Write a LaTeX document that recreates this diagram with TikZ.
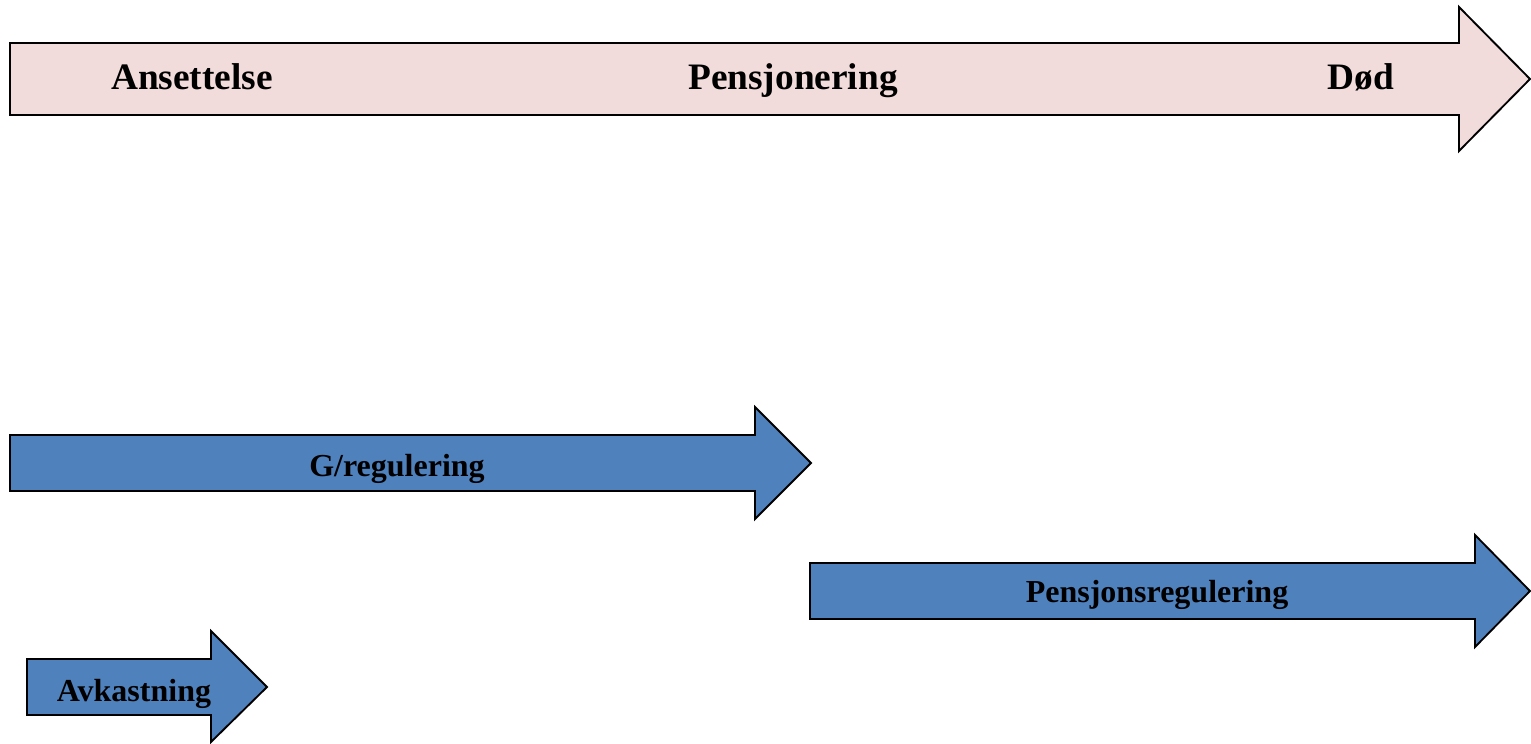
\documentclass[tikz,border=0pt]{standalone}
\usepackage{fontspec}
\setmainfont{Liberation Serif}
\definecolor{pinkfill}{HTML}{F2DCDB}
\definecolor{bluefill}{HTML}{4F81BD}
\begin{document}
\begin{tikzpicture}[x=0.75pt,y=-0.75pt,
    pil/.style = {draw=black, line width=1.4pt, line join=miter},
    tidslinje/.style = {pil, fill=pinkfill},
    regulering/.style = {pil, fill=bluefill},
    stor/.style = {anchor=base, font=\fontsize{28}{32}\selectfont\bfseries, inner sep=0pt},
    liten/.style = {anchor=base, font=\fontsize{24}{28}\selectfont\bfseries, inner sep=0pt}]
    \useasboundingbox (0,0) rectangle (1531,743);
    % tidslinje
    \draw[tidslinje] (10,43) -- (1459,43) -- (1459,7) -- (1530,79) -- (1459,151) -- (1459,115) -- (10,115) -- cycle;
    % reguleringspiler
    \draw[regulering] (10,435) -- (755,435) -- (755,407) -- (811,463) -- (755,519) -- (755,491) -- (10,491) -- cycle;
    \draw[regulering] (810,563) -- (1475,563) -- (1475,535) -- (1530,591) -- (1475,647) -- (1475,619) -- (810,619) -- cycle;
    \draw[regulering] (27,659) -- (211,659) -- (211,631) -- (267,687) -- (211,742) -- (211,715) -- (27,715) -- cycle;
    \node[stor] (ansettelse) at (192,89) {Ansettelse};
    \node[stor] (pensjonering) at (793,89) {Pensjonering};
    \node[stor] (dod) at (1361,89) {Død};
    \node[liten] (greg) at (397,476) {G/regulering};
    \node[liten] (preg) at (1157,602) {Pensjonsregulering};
    \node[liten] (avk) at (134,701) {Avkastning};
\end{tikzpicture}
\end{document}
